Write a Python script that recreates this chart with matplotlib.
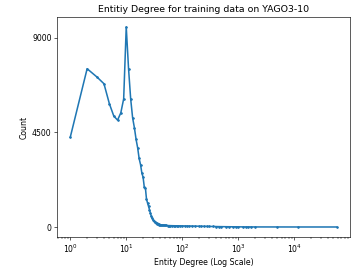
import matplotlib
matplotlib.use("Agg")
import matplotlib.pyplot as plt

# entity degree -> number of entities
degree = [1, 2, 3, 4, 5, 6, 7, 8, 9, 10,
          11, 12, 13, 14, 15, 16, 17, 18, 19, 20,
          21, 22, 23, 24, 25, 26, 27, 28, 29, 30,
          31, 32, 33, 34, 35, 36, 37, 38, 39, 40,
          42, 44, 46, 48, 50, 52, 55, 58, 60, 65,
          70, 75, 80, 85, 90, 100, 110, 120, 130, 150,
          170, 200, 220, 250, 280, 300, 350, 400, 450, 500,
          600, 700, 800, 900, 1000, 1200, 1400, 1500, 1720, 2000,
          5000, 11900, 57500]
count = [4271, 7524, 7129, 6810, 5857, 5271, 5081, 5429, 6095, 9510,
         7524, 6095, 5190, 4714, 4162, 3762, 3257, 2971, 2571, 2367,
         1905, 1857, 1333, 1143, 986, 829, 667, 510, 420, 350,
         300, 260, 225, 195, 175, 155, 140, 128, 118, 110,
         100, 92, 86, 80, 76, 73, 70, 67, 66, 62,
         60, 58, 57, 55, 54, 52, 50, 48, 46, 44,
         41, 38, 35, 33, 30, 28, 25, 22, 19, 17,
         14, 12, 10, 9, 8, 6, 5, 5, 4, 3,
         2, 1, 1]

dpi = 56
fig = plt.figure(figsize=(356 / dpi, 269 / dpi), dpi=dpi)
ax = fig.add_subplot(111)
fig.subplots_adjust(left=0.160, right=0.983, top=0.937, bottom=0.119)

ax.plot(degree, count, marker='.', markersize=4.5, linewidth=2.0,
        color='#1f77b4')
ax.set_xscale('log')
ax.set_yticks([0, 4500, 9000])
ax.set_title("Entitiy Degree for training data on YAGO3-10")
ax.set_xlabel("Entity Degree (Log Scale)")
ax.set_ylabel("Count")

fig.savefig("out.png", dpi=dpi)
